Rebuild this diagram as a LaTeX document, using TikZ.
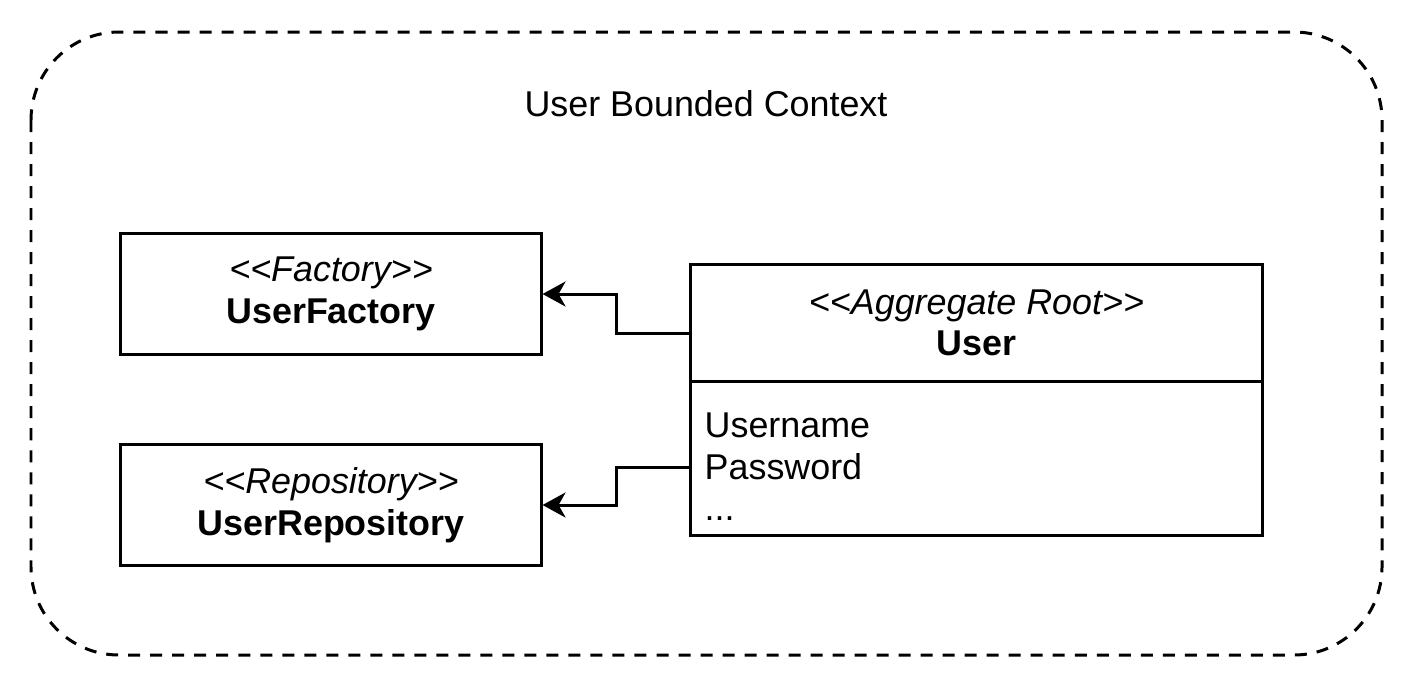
\documentclass[tikz,border=0pt]{standalone}
\usepackage{fontspec}
\setmainfont{Liberation Sans}
\usetikzlibrary{arrows.meta}
\tikzset{
	klasse/.style={draw, line width=0.85pt, align=center, inner sep=0pt, outer sep=0pt},
	pfeil/.style={line width=0.85pt, -{Stealth[length=0.23cm,width=0.25cm,inset=0.07cm]}},
	rahmen/.style={line width=0.85pt, dash pattern=on 0.12cm off 0.1cm, rounded corners=0.88cm}
}
\begin{document}
\begin{tikzpicture}[x=0.01cm,y=-0.01cm,font=\fontsize{10.2pt}{11.8pt}\selectfont]
	\useasboundingbox (0,0) rectangle (1416,687);%Rand
	\draw[rahmen] (31,32) rectangle (1382,655);%Kontextrahmen gestrichelt
	\node (titel) at (706,104) {User Bounded Context};
	\node[klasse, minimum width=4.2cm, minimum height=1.2cm] (factory) at (331,294) {\textit{<{}<Factory>{}>}\\\textbf{UserFactory}};%Fabrik
	\node[klasse, minimum width=4.2cm, minimum height=1.2cm] (repository) at (331,505) {\textit{<{}<Repository>{}>}\\\textbf{UserRepository}};%Repository
	\node[klasse, minimum width=5.71cm, minimum height=1.16cm] (user) at (976.5,323) {\textit{<{}<Aggregate Root>{}>}\\\textbf{User}};%Kopf der Klasse
	\node[klasse, minimum width=5.71cm, minimum height=1.54cm, anchor=north] (attribute) at (user.south) {};%Attributfeld
	\node[anchor=west, align=left, inner sep=0pt] (felder) at (704,467) {Username\\Password\\...};
	\draw[pfeil] ([yshift=-0.1cm]user.west) -- ++(-74,0) |- ([xshift=0.4pt]factory.east);%User nach Factory
	\draw[pfeil] ([yshift=-0.09cm]attribute.west) -- ++(-74,0) |- ([xshift=0.4pt]repository.east);%User nach Repository
\end{tikzpicture}
\end{document}
